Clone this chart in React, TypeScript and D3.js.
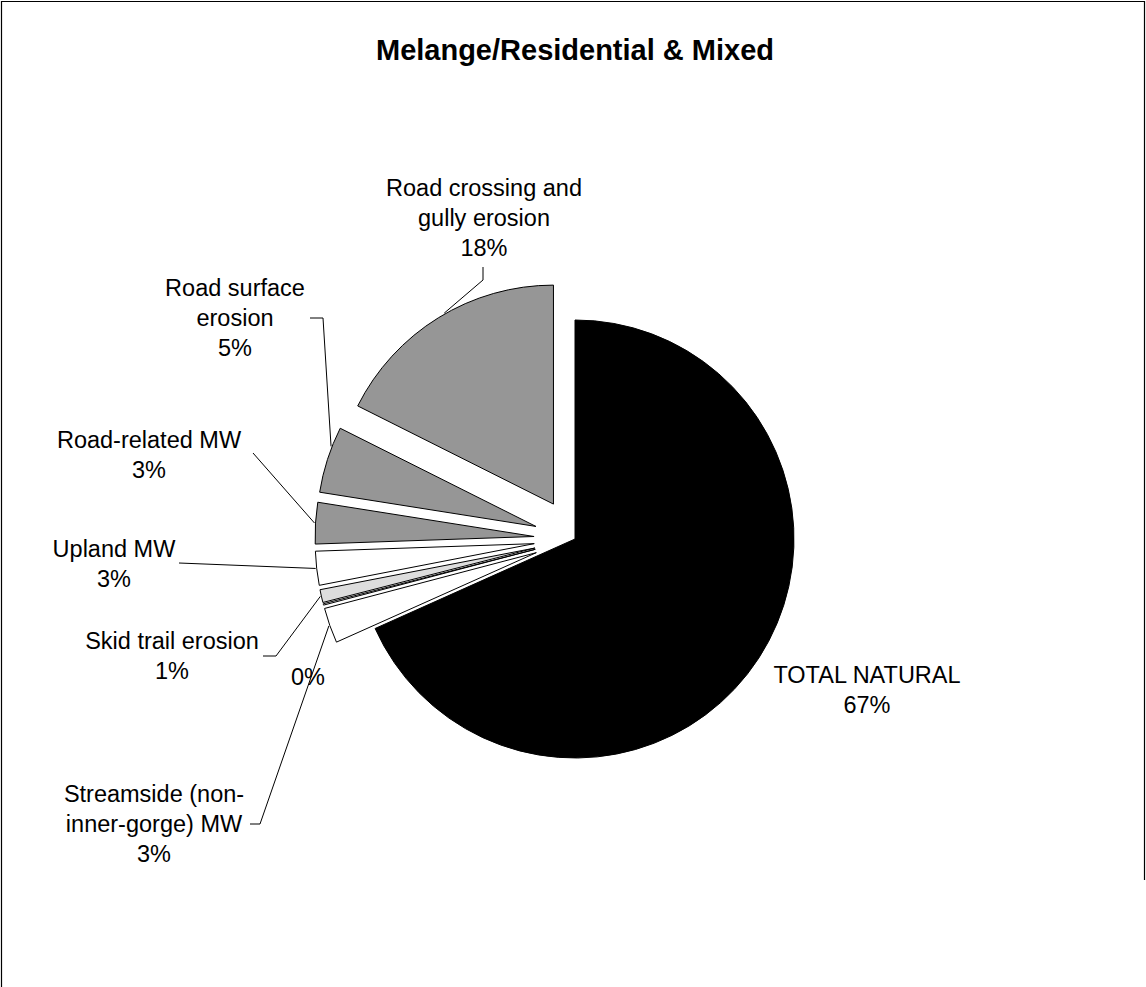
import React from "react";
import * as d3 from "d3";

// ---- data ----
const categories = [
  "TOTAL NATURAL",
  "Streamside (non-inner-gorge) MW",
  "",
  "Skid trail erosion",
  "Upland MW",
  "Road-related MW",
  "Road surface erosion",
  "Road crossing and gully erosion",
];
const values = [68.3, 2.6, 0.1, 0.95, 2.5, 3.05, 4.9, 17.6];
const percentLabels = ["67%", "3%", "0%", "1%", "3%", "3%", "5%", "18%"];
const title = "Melange/Residential & Mixed";

// ---- styles / layout ----
const W = 1146;
const H = 987;
const CX = 575;
const CY = 539;
const R = 219;
const EXPLODE = 41;
const FONT = "'Liberation Sans', Arial, Helvetica, sans-serif";
const LABEL_SIZE = 23.5;
const LINE_H = 30;
const fills = ["#000000", "#ffffff", "#ffffff", "#dddddd", "#ffffff", "#969696", "#969696", "#969696"];
const exploded = [false, true, true, true, true, true, true, true];

type Layout = {
  lines: string[];
  x: number;
  y: number;
  leader: [number, number][] | null;
  frac: number;
};

const labelLayout: Layout[] = [
  { lines: ["TOTAL NATURAL"], x: 867, y: 683, leader: null, frac: 0.5 },
  { lines: ["Streamside (non-", "inner-gorge) MW"], x: 154, y: 802, leader: [[250, 824], [260, 824]], frac: 0.5 },
  { lines: [], x: 308, y: 685, leader: null, frac: 0.5 },
  { lines: ["Skid trail erosion"], x: 172, y: 649, leader: [[263, 656], [276, 656]], frac: 0.5 },
  { lines: ["Upland MW"], x: 114, y: 557, leader: [[179, 563]], frac: 0.5 },
  { lines: ["Road-related MW"], x: 149, y: 448, leader: [[253, 453]], frac: 0.5 },
  { lines: ["Road surface", "erosion"], x: 235, y: 296, leader: [[310, 318], [323, 318]], frac: 0.7 },
  { lines: ["Road crossing and", "gully erosion"], x: 484, y: 196, leader: [[483, 267], [483, 280]], frac: 0.53 },
];

export default function App() {
  const pie = d3
    .pie<number>()
    .sort(null)
    .value((d) => d)
    .startAngle(0)
    .endAngle(2 * Math.PI);
  const arcs = pie(values);
  const arcGen = d3.arc<d3.PieArcDatum<number>>().innerRadius(0).outerRadius(R);

  const slices = arcs.map((a, i) => {
    const mid = (a.startAngle + a.endAngle) / 2;
    const ox = exploded[i] ? Math.sin(mid) * EXPLODE : 0;
    const oy = exploded[i] ? -Math.cos(mid) * EXPLODE : 0;
    return { a, i, ox, oy };
  });

  return (
    <div style={{ position: "absolute", left: 0, top: 0, width: W, height: H, background: "#fff" }}>
      <svg width={W} height={H} style={{ display: "block" }}>
        <rect x={0} y={0} width={W} height={H} fill="#ffffff" />
        <path d={`M1.5,${H} V1.5 H1144.5 V880`} fill="none" stroke="#000" strokeWidth={1.2} />
        <text
          x={CX}
          y={60}
          textAnchor="middle"
          fontFamily={FONT}
          fontWeight="bold"
          fontSize={29}
          fill="#000"
        >
          {title}
        </text>
        {slices.map(({ a, i, ox, oy }) => (
          <path
            key={"s" + i}
            d={arcGen(a) || ""}
            transform={`translate(${CX + ox},${CY + oy})`}
            fill={fills[i]}
            stroke="#000"
            strokeWidth={1}
            strokeLinejoin="round"
          />
        ))}
        {slices.map(({ a, i, ox, oy }) => {
          const L = labelLayout[i];
          if (!L.leader) return null;
          const ang = a.startAngle + L.frac * (a.endAngle - a.startAngle);
          const px = CX + ox + (R + 1) * Math.sin(ang);
          const py = CY + oy - (R + 1) * Math.cos(ang);
          const pts = [...L.leader, [px, py]];
          const d = d3.line()(pts as [number, number][]) || "";
          return <path key={"l" + i} d={d} fill="none" stroke="#000" strokeWidth={1} />;
        })}
        {slices.map(({ i }) => {
          const L = labelLayout[i];
          const lines = [...L.lines, percentLabels[i]];
          return (
            <text
              key={"t" + i}
              textAnchor="middle"
              fontFamily={FONT}
              fontSize={LABEL_SIZE}
              fill="#000"
              aria-label={categories[i]}
            >
              {lines.map((ln, k) => (
                <tspan key={k} x={L.x} y={L.y + k * LINE_H}>
                  {ln}
                </tspan>
              ))}
            </text>
          );
        })}
      </svg>
    </div>
  );
}
